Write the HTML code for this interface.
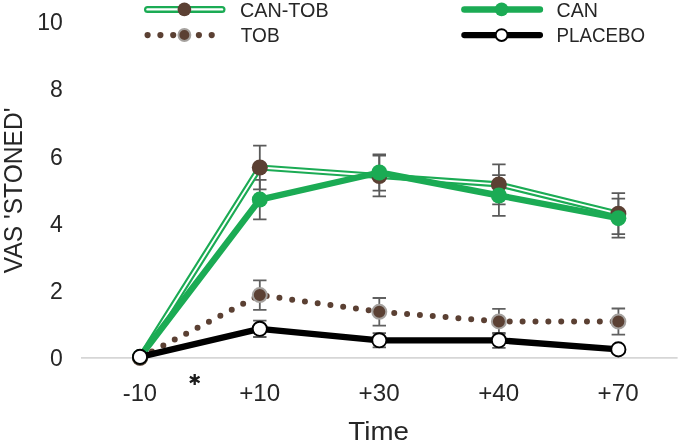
<!DOCTYPE html>
<html><head><meta charset="utf-8"><title>chart</title>
<style>
html,body{margin:0;padding:0;background:#fff;}
body{width:680px;height:442px;overflow:hidden;font-family:"Liberation Sans",sans-serif;}
svg{display:block;will-change:transform;}
text{font-family:"Liberation Sans",sans-serif;fill:#262626;}
</style></head><body>
<svg width="680" height="442" viewBox="0 0 680 442">
<rect width="680" height="442" fill="#fff"/>
<line x1="81" y1="357.9" x2="677.6" y2="357.9" stroke="#d6d6d6" stroke-width="1.8"/>
<text x="62.8" y="29.8" font-size="23" text-anchor="end">10</text>
<text x="62.8" y="97.1" font-size="23" text-anchor="end">8</text>
<text x="62.8" y="165.3" font-size="23" text-anchor="end">6</text>
<text x="62.8" y="232.2" font-size="23" text-anchor="end">4</text>
<text x="62.8" y="299.0" font-size="23" text-anchor="end">2</text>
<text x="62.8" y="365.9" font-size="23" text-anchor="end">0</text>
<text x="139.9" y="400.7" font-size="23" text-anchor="middle" textLength="34.3" lengthAdjust="spacingAndGlyphs">-10</text>
<text x="259.7" y="400.7" font-size="23" text-anchor="middle" textLength="41" lengthAdjust="spacingAndGlyphs">+10</text>
<text x="379.1" y="400.7" font-size="23" text-anchor="middle" textLength="41" lengthAdjust="spacingAndGlyphs">+30</text>
<text x="498.7" y="400.7" font-size="23" text-anchor="middle" textLength="41" lengthAdjust="spacingAndGlyphs">+40</text>
<text x="618.1" y="400.7" font-size="23" text-anchor="middle" textLength="41" lengthAdjust="spacingAndGlyphs">+70</text>
<path d="M194.70 373.90L194.70 385.10M189.85 376.70L199.55 382.30M199.55 376.70L189.85 382.30" stroke="#1c1c1c" stroke-width="2.3" fill="none"/>
<text x="378.6" y="439.5" font-size="26" text-anchor="middle" textLength="60.5" lengthAdjust="spacingAndGlyphs">Time</text>
<text transform="translate(21.7,190.4) rotate(-90)" font-size="25.6" text-anchor="middle" textLength="165.5" lengthAdjust="spacingAndGlyphs">VAS 'STONED'</text>
<path d="M259.8 280.4V309.8M253.1 280.4H266.5M253.1 309.8H266.5" stroke="#606060" stroke-width="1.8" fill="none"/>
<path d="M379.3 298.0V325.6M372.6 298.0H386.0M372.6 325.6H386.0" stroke="#606060" stroke-width="1.8" fill="none"/>
<path d="M498.9 308.9V333.9M492.2 308.9H505.6M492.2 333.9H505.6" stroke="#606060" stroke-width="1.8" fill="none"/>
<path d="M618.4 308.5V334.7M611.6 308.5H625.1M611.6 334.7H625.1" stroke="#606060" stroke-width="1.8" fill="none"/>
<path d="M259.8 145.7V189.3M253.1 145.7H266.5M253.1 189.3H266.5" stroke="#5a5a5a" stroke-width="1.8" fill="none"/>
<path d="M379.3 155.6V196.4M372.6 155.6H386.0M372.6 196.4H386.0" stroke="#5a5a5a" stroke-width="1.8" fill="none"/>
<path d="M498.9 164.4V204.4M492.2 164.4H505.6M492.2 204.4H505.6" stroke="#5a5a5a" stroke-width="1.8" fill="none"/>
<path d="M618.4 193.2V234.2M611.6 193.2H625.1M611.6 234.2H625.1" stroke="#5a5a5a" stroke-width="1.8" fill="none"/>
<path d="M259.8 179.8V219.4M253.1 179.8H266.5M253.1 219.4H266.5" stroke="#5a5a5a" stroke-width="1.8" fill="none"/>
<path d="M379.3 154.4V190.6M372.6 154.4H386.0M372.6 190.6H386.0" stroke="#5a5a5a" stroke-width="1.8" fill="none"/>
<path d="M498.9 175.1V215.9M492.2 175.1H505.6M492.2 215.9H505.6" stroke="#5a5a5a" stroke-width="1.8" fill="none"/>
<path d="M618.4 198.7V237.7M611.6 198.7H625.1M611.6 237.7H625.1" stroke="#5a5a5a" stroke-width="1.8" fill="none"/>
<path d="M259.8 320.6V337.0M253.1 320.6H266.5M253.1 337.0H266.5" stroke="#5a5a5a" stroke-width="1.8" fill="none"/>
<path d="M379.3 333.2V347.4M372.6 333.2H386.0M372.6 347.4H386.0" stroke="#5a5a5a" stroke-width="1.8" fill="none"/>
<path d="M498.9 332.8V347.8M492.2 332.8H505.6M492.2 347.8H505.6" stroke="#5a5a5a" stroke-width="1.8" fill="none"/>
<polyline points="140.0,357.8 259.8,295.1 379.3,311.8 498.9,321.4 618.4,321.6" fill="none" stroke="#5b4033" stroke-width="6" stroke-linecap="round" stroke-dasharray="0 12.87" stroke-dashoffset="-0.6"/>
<circle cx="140.0" cy="357.8" r="7.0" fill="#5b4033" stroke="#a5a19e" stroke-width="2.0"/>
<circle cx="259.8" cy="295.1" r="7.0" fill="#5b4033" stroke="#a5a19e" stroke-width="2.0"/>
<circle cx="379.3" cy="311.8" r="7.0" fill="#5b4033" stroke="#a5a19e" stroke-width="2.0"/>
<circle cx="498.9" cy="321.4" r="7.0" fill="#5b4033" stroke="#a5a19e" stroke-width="2.0"/>
<circle cx="618.35" cy="321.6" r="7.0" fill="#5b4033" stroke="#a5a19e" stroke-width="2.0"/>
<polyline points="140.0,357.8 259.8,167.5 379.3,176.0 498.9,184.4 618.4,213.7" fill="none" stroke="#1bab54" stroke-width="6.2" stroke-linejoin="round"/>
<polyline points="140.0,357.8 259.8,167.5 379.3,176.0 498.9,184.4 618.4,213.7" fill="none" stroke="#fff" stroke-width="1.9" stroke-linejoin="round"/>
<circle cx="140.0" cy="357.8" r="8.0" fill="#5b4033"/>
<circle cx="259.8" cy="167.5" r="8.0" fill="#5b4033"/>
<circle cx="379.3" cy="176.0" r="8.0" fill="#5b4033"/>
<circle cx="498.9" cy="184.4" r="8.0" fill="#5b4033"/>
<circle cx="618.35" cy="213.7" r="8.0" fill="#5b4033"/>
<polyline points="140.0,356.8 259.8,199.6 379.3,172.5 498.9,195.5 618.4,218.2" fill="none" stroke="#1bab54" stroke-width="6.4" stroke-linejoin="round"/>
<circle cx="140.0" cy="356.8" r="7.8" fill="#1bab54"/>
<circle cx="259.8" cy="199.6" r="8.0" fill="#1bab54"/>
<circle cx="379.3" cy="172.5" r="8.0" fill="#1bab54"/>
<circle cx="498.9" cy="195.5" r="8.0" fill="#1bab54"/>
<circle cx="618.35" cy="218.2" r="8.0" fill="#1bab54"/>
<polyline points="140.0,356.9 259.8,328.8 379.3,340.3 498.9,340.3 618.4,349.4" fill="none" stroke="#000000" stroke-width="6.3" stroke-linejoin="round"/>
<circle cx="140.0" cy="356.9" r="7.1" fill="#fff" stroke="#000000" stroke-width="1.9"/>
<circle cx="259.8" cy="328.8" r="7.1" fill="#fff" stroke="#000000" stroke-width="1.9"/>
<circle cx="379.3" cy="340.3" r="7.1" fill="#fff" stroke="#000000" stroke-width="1.9"/>
<circle cx="498.9" cy="340.3" r="7.1" fill="#fff" stroke="#000000" stroke-width="1.9"/>
<circle cx="618.35" cy="349.4" r="7.1" fill="#fff" stroke="#000000" stroke-width="1.9"/>
<line x1="147.5" y1="9.4" x2="222.0" y2="9.4" stroke="#1bab54" stroke-width="7.0" stroke-linecap="round"/>
<line x1="147.5" y1="9.4" x2="222.0" y2="9.4" stroke="#fff" stroke-width="2.4" stroke-linecap="round"/>
<circle cx="184.4" cy="9.4" r="6.8" fill="#5b4033"/>
<circle cx="147.6" cy="35.1" r="3.1" fill="#5b4033"/>
<circle cx="160.4" cy="35.1" r="3.1" fill="#5b4033"/>
<circle cx="173.2" cy="35.1" r="3.1" fill="#5b4033"/>
<circle cx="186.0" cy="35.1" r="3.1" fill="#5b4033"/>
<circle cx="198.9" cy="35.1" r="3.1" fill="#5b4033"/>
<circle cx="211.7" cy="35.1" r="3.1" fill="#5b4033"/>
<circle cx="184.4" cy="35.0" r="5.95" fill="#5b4033" stroke="#a5a19e" stroke-width="1.95"/>
<line x1="464.4" y1="9.4" x2="539.9" y2="9.4" stroke="#1bab54" stroke-width="6.5" stroke-linecap="round"/>
<circle cx="501.6" cy="9.4" r="6.8" fill="#1bab54"/>
<line x1="464.4" y1="35.1" x2="539.9" y2="35.1" stroke="#000000" stroke-width="6.3" stroke-linecap="round"/>
<circle cx="501.6" cy="35.1" r="5.9" fill="#fff" stroke="#000000" stroke-width="1.9"/>
<text x="240.0" y="16.9" font-size="20.3" textLength="88.6" lengthAdjust="spacingAndGlyphs">CAN-TOB</text>
<text x="240.8" y="42.0" font-size="20.3" textLength="38.8" lengthAdjust="spacingAndGlyphs">TOB</text>
<text x="556.6" y="16.9" font-size="20.3" textLength="41.4" lengthAdjust="spacingAndGlyphs">CAN</text>
<text x="556.6" y="42.0" font-size="20.3" textLength="88.4" lengthAdjust="spacingAndGlyphs">PLACEBO</text>
</svg>
</body></html>
